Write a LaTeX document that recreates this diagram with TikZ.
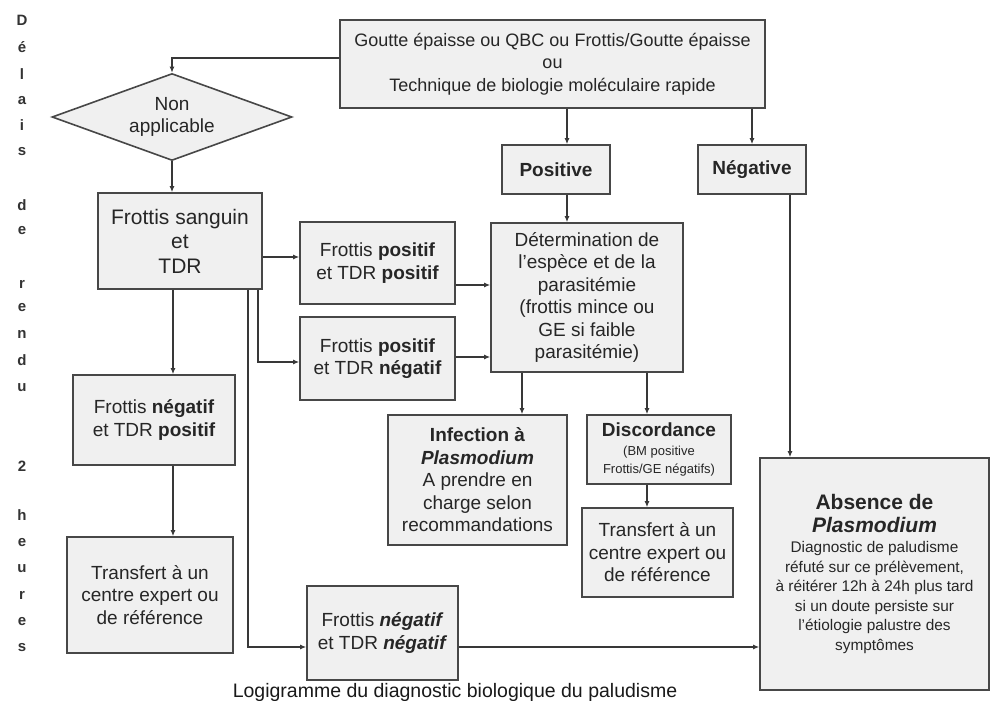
\documentclass[tikz,border=0pt]{standalone}
\usepackage{fontspec}
\setmainfont{Liberation Sans}
\usetikzlibrary{arrows.meta,shapes.geometric}
\newcommand{\fsmall}{\fontsize{13}{17}\selectfont}
\newcommand{\fabs}{\fontsize{15.4}{20}\selectfont}
\newcommand{\fbig}{\fontsize{21}{24}\selectfont}
\tikzset{
  box/.style={draw=black!72, line width=1.6pt, fill=black!6, align=center, inner sep=0pt,
    font=\fontsize{19}{22.5}\selectfont, text=black!85},
  arr/.style={draw=black!78, line width=1.2pt, -{Latex[length=6pt,width=5pt]}},
  vlet/.style={font=\fontsize{15}{15}\selectfont\bfseries, text=black!80, inner sep=0pt},
}
\begin{document}
\begin{tikzpicture}[x=1pt,y=-1pt]
\useasboundingbox (0,0) rectangle (991,701);
\fill[white] (0,0) rectangle (991,701);

% vertical text
\foreach \l/\yy in {D/20,é/47,l/74,a/101,i/125,s/152,d/205,e/231,r/284,e/308,n/334,d/360,u/388,2/466,h/515,e/543,u/569,r/595,e/622,s/648}
  \node[vlet] at (22,\yy) {\l};

% nodes
\node[box, minimum width=425pt, minimum height=88pt, font=\fontsize{18}{22.5}\selectfont] (top) at (552.5,64)
  {Goutte épaisse ou QBC ou Frottis/Goutte épaisse\\ou\\Technique de biologie moléculaire rapide};
\node[box, shape=diamond, minimum width=240pt, minimum height=87pt, aspect=2.8] (dia) at (172,117)
  {Non\\applicable};
\node[box, minimum width=164pt, minimum height=96pt, font=\fontsize{21}{24.5}\selectfont] (fs) at (180,241)
  {Frottis sanguin\\et\\TDR};
\node[box, minimum width=108pt, minimum height=49pt] (pos) at (556,169.5) {\textbf{Positive}};
\node[box, minimum width=108pt, minimum height=49pt] (neg) at (752,169.5) {\textbf{Négative}};
\node[box, minimum width=155pt, minimum height=82pt] (pp) at (377.5,263)
  {Frottis \textbf{positif}\\et TDR \textbf{positif}};
\node[box, minimum width=155pt, minimum height=83pt] (pn) at (377.5,358.5)
  {Frottis \textbf{positif}\\et TDR \textbf{négatif}};
\node[box, minimum width=192pt, minimum height=149pt] (det) at (587,297.5)
  {Détermination de\\l'espèce et de la\\parasitémie\\(frottis mince ou\\GE si faible\\parasitémie)};
\node[box, minimum width=179pt, minimum height=130pt] (inf) at (477.5,480)
  {\textbf{Infection à}\\\textbf{\textit{Plasmodium}}\\A prendre en\\charge selon\\recommandations};
\node[box, minimum width=144pt, minimum height=69pt] (disc) at (659,449.5)
  {\textbf{Discordance}\\[-4pt]\fsmall (BM positive\\[-4pt]\fsmall Frottis/GE négatifs)};
\node[box, minimum width=151pt, minimum height=89pt] (tr2) at (657.5,552.5)
  {Transfert à un\\centre expert ou\\de référence};
\node[box, minimum width=162pt, minimum height=90pt] (fnp) at (154,420)
  {Frottis \textbf{négatif}\\et TDR \textbf{positif}};
\node[box, minimum width=166pt, minimum height=116pt] (tr1) at (150,595)
  {Transfert à un\\centre expert ou\\de référence};
\node[box, minimum width=151pt, minimum height=94pt] (fnn) at (382.5,633)
  {Frottis \textbf{\textit{négatif}}\\et TDR \textbf{\textit{négatif}}};
\node[box, minimum width=229pt, minimum height=232pt] (abs) at (874.5,574)
  {\fbig\textbf{Absence de}\\
   \fbig\textbf{\textit{Plasmodium}}\\[-2pt]
   \fabs Diagnostic de paludisme\\[-3pt]
   \fabs réfuté sur ce prélèvement,\\[-3pt]
   \fabs à réitérer 12h à 24h plus tard\\[-3pt]
   \fabs si un doute persiste sur\\[-3pt]
   \fabs l'étiologie palustre des\\[-3pt]
   \fabs symptômes};

% caption
\node[font=\fontsize{19.5}{22}\selectfont, text=black!90, inner sep=0pt] (cap) at (455,692)
  {Logigramme du diagnostic biologique du paludisme};

% helper coordinates
\coordinate (xa) at (567,0);
\coordinate (xc) at (790,0);
\coordinate (xd) at (173,0);
\coordinate (xe) at (248,0);
\coordinate (xf) at (258,0);
\coordinate (xg) at (522,0);
\coordinate (xh) at (647,0);
\coordinate (ya) at (0,58);
\coordinate (yb) at (0,257);
\coordinate (yc) at (0,362);
\coordinate (yd) at (0,285);
\coordinate (ye) at (0,357);
\coordinate (yf) at (0,647);

% connectors
\draw[arr] (top.west |- ya) -| (dia.north);
\draw[arr] (top.south -| xa) -- (pos.north -| xa);
\draw[arr] (top.south -| neg.north) -- (neg.north);
\draw[arr] (dia.south) -- (fs.north -| dia.south);
\draw[arr] (pos.south -| xa) -- (det.north -| xa);
\draw[arr] (neg.south -| xc) -- (abs.north -| xc);
\draw[arr] (fs.east |- yb) -- (pp.west |- yb);
\draw[arr] (fs.south -| xf) |- (pn.west |- yc);
\draw[arr] (pp.east |- yd) -- (det.west |- yd);
\draw[arr] (pn.east |- ye) -- (det.west |- ye);
\draw[arr] (det.south -| xg) -- (inf.north -| xg);
\draw[arr] (det.south -| xh) -- (disc.north -| xh);
\draw[arr] (disc.south -| xh) -- (tr2.north -| xh);
\draw[arr] (fs.south -| xd) -- (fnp.north -| xd);
\draw[arr] (fnp.south -| xd) -- (tr1.north -| xd);
\draw[arr] (fs.south -| xe) |- (fnn.west |- yf);
\draw[arr] (fnn.east |- yf) -- (abs.west |- yf);
\end{tikzpicture}
\end{document}
